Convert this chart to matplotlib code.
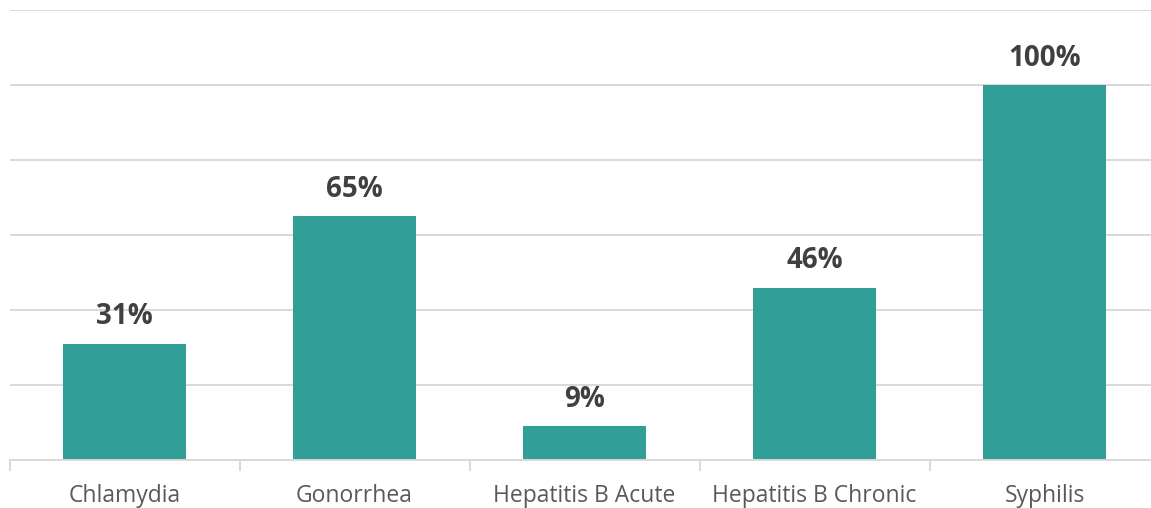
import matplotlib
matplotlib.use("Agg")
import matplotlib.pyplot as plt
import numpy as np

categories = ["Chlamydia", "Gonorrhea", "Hepatitis B Acute", "Hepatitis B Chronic", "Syphilis"]
values = [31, 65, 9, 46, 100]
labels = ["31%", "65%", "9%", "46%", "100%"]

W, H = 1151, 508
fig = plt.figure(figsize=(W / 100, H / 100), dpi=100)
left, right, bottom, top = 9.5, 9.5 + 230 * 5, 460, 10
ax = fig.add_axes([left / W, (H - bottom) / H, (right - left) / W, (bottom - top) / H])

x = np.arange(len(categories))
ax.bar(x, values, width=0.535, color="#329E98", zorder=3)
ax.set_xlim(-0.5, len(categories) - 0.5)
ax.set_ylim(0, 120)
ax.set_yticks(np.arange(0, 121, 20))
ax.yaxis.grid(True, color="#D9D9D9", linewidth=1.4, zorder=0)
ax.tick_params(axis="y", left=False, labelleft=False)
for s in ["left", "right", "top"]:
    ax.spines[s].set_visible(False)
ax.spines["bottom"].set_color("#D9D9D9")
ax.spines["bottom"].set_linewidth(1.4)
ax.spines["bottom"].set_zorder(4)

ax.set_xticks(x)
ax.set_xticklabels(categories, fontname="Open Sans", fontsize=16.5, color="#595959")
ax.tick_params(axis="x", length=0, pad=17)
ax.set_xticks(np.arange(-0.5, len(categories), 1), minor=True)
ax.tick_params(axis="x", which="minor", length=8, width=1.4, color="#D9D9D9")

for xi, v, lab in zip(x, values, labels):
    ax.annotate(lab, (xi, v), xytext=(0, 9), textcoords="offset points",
                ha="center", va="bottom", fontname="Open Sans", fontweight="bold",
                fontsize=20, color="#404040", zorder=5)

fig.savefig("out.png", dpi=100)
